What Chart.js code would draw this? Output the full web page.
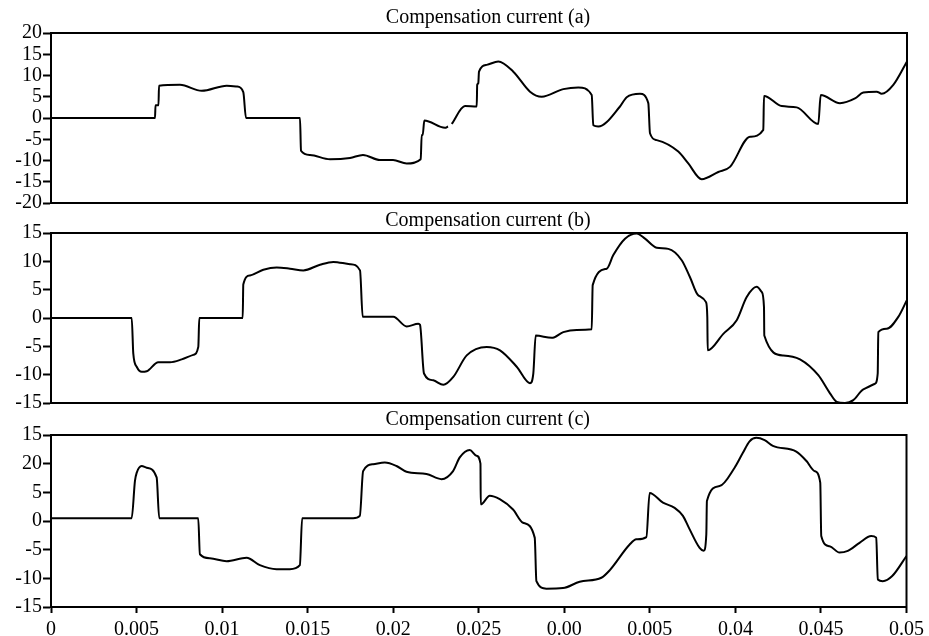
<!DOCTYPE html>
<html>
<head>
<meta charset="utf-8">
<script src="https://cdn.jsdelivr.net/npm/chart.js@4.4.1/dist/chart.umd.min.js"></script>
<style>
  html, body { margin: 0; padding: 0; background: #fff; }
  #wrap { position: relative; width: 929px; height: 636px; overflow: hidden; }
  #wrap canvas { position: absolute; left: 0; top: 0; }
</style>
</head>
<body>
<div id="wrap">
  <canvas id="chartA" width="929" height="636"></canvas>
  <canvas id="chartB" width="929" height="636"></canvas>
  <canvas id="chartC" width="929" height="636"></canvas>
</div>
<script>
// time in ms, current in A
const timeA = [0, 6.075, 6.104, 6.279, 6.308, 7.535, 8.803, 10.263, 10.847, 11.232, 11.390,
  14.544, 14.603, 15.129, 16.297, 17.465, 18.224, 19.217, 19.977, 20.777, 21.595, 21.653,
  21.712, 21.805, 23.014, 23.19, 23.3, 23.405, 24.182, 24.866, 24.895, 24.959, 25.0, 25.450, 26.127,
  27.004, 27.979, 28.662, 29.924, 30.800, 31.583, 31.676, 31.968, 33.236, 33.627, 34.404,
  34.889, 34.988, 35.380, 36.641, 37.225, 38.008, 38.978, 39.661, 40.829, 41.606, 41.647,
  42.681, 43.558, 44.819, 44.959, 46.086, 46.963, 47.448, 48.230, 48.522, 49.200, 50.0];
const currentA = [0, 0, 3.0, 3.0, 7.6, 7.8, 6.4, 7.6, 7.4, 6.1, 0,
  0, -7.7, -8.7, -9.7, -9.4, -8.7, -9.9, -9.9, -10.7, -9.7, -4.0,
  -4.0, -0.6, -2.3, -2.0, null, -1.4, 2.8, 2.7, 7.8, 8.2, 10.9, 12.5, 13.3,
  10.9, 6.2, 5.0, 6.8, 7.2, 5.4, -1.7, -2.0, 2.7, 4.9, 5.7,
  3.5, -3.6, -5.2, -7.9, -10.7, -14.4, -12.7, -11.5, -4.4, -2.8, 5.2,
  2.8, 2.5, -1.4, 5.4, 3.5, 4.6, 6.0, 6.2, 5.7, 7.8, 13.3];

const timeB = [0, 4.714, 4.807, 5.006, 5.298, 5.590, 6.268, 6.951, 7.634, 8.312, 8.604, 8.662,
  11.197, 11.232, 11.624, 12.401, 13.183, 13.960, 14.737, 15.713, 16.490, 17.465, 18.049,
  18.207, 19.994, 20.777, 21.454, 21.554, 21.787, 22.331, 22.915, 23.499, 24.282, 25.450,
  26.227, 27.202, 27.979, 28.172, 28.312, 29.247, 29.924, 30.707, 31.583, 31.641, 32.459,
  32.845, 33.528, 34.211, 34.696, 35.380, 36.057, 36.840, 37.325, 37.810, 38.259, 38.335,
  38.359, 39.270, 40.053, 40.637, 41.221, 41.513, 41.647, 41.665, 42.774, 43.750, 44.819,
  45.502, 45.894, 46.379, 46.863, 47.448, 48.131, 48.289, 48.324, 48.814, 49.492, 50.0];
const currentB = [0, 0, -6.3, -8.6, -9.5, -9.4, -7.8, -7.8, -7.3, -6.5, -5.1, 0,
  0, 5.9, 7.5, 8.5, 8.9, 8.7, 8.4, 9.4, 9.9, 9.5, 8.4,
  0.2, 0.2, -1.5, -1.0, -1.2, -9.8, -11.0, -11.8, -10.4, -6.6, -5.1,
  -5.7, -8.6, -11.5, -9.8, -3.1, -3.5, -2.5, -2.1, -2.0, 5.8, 8.7,
  11.1, 14.0, 14.9, 14.0, 12.4, 12.2, 10.2, 7.2, 4.0, 2.8, 0.2,
  -5.7, -2.8, -0.4, 3.7, 5.5, 4.6, 1.9, -3.1, -6.6, -7.3, -10.1,
  -13.3, -14.8, -15.0, -14.5, -12.6, -11.6, -9.8, -2.5, -1.9, 0.2, 3.2];

const timeC = [0, 4.714, 4.907, 5.006, 5.298, 5.590, 6.174, 6.326, 8.604, 8.703, 9.287,
  10.263, 11.431, 12.208, 13.183, 13.960, 14.544, 14.679, 17.658, 18.049, 18.242, 18.826,
  19.509, 20.193, 20.777, 21.945, 22.821, 23.499, 23.890, 24.474, 24.866, 25.100, 25.117,
  25.643, 26.227, 27.004, 27.588, 28.271, 28.370, 28.954, 29.924, 30.900, 32.167, 32.652,
  33.820, 34.211, 34.796, 34.988, 35.765, 36.449, 36.934, 37.284, 37.909, 38.143, 38.300,
  38.335, 39.077, 39.953, 40.438, 40.829, 41.221, 41.706, 42.191, 43.558, 44.142, 44.626,
  44.959, 45.018, 45.502, 46.086, 46.572, 47.255, 47.938, 48.230, 48.324, 48.616, 49.165, 50.0];
const currentC = [0.5, 0.5, 7.0, 8.4, 9.6, 9.3, 7.6, 0.5, 0.5, -5.8, -6.5,
  -7.0, -6.4, -7.7, -8.4, -8.4, -7.7, 0.5, 0.5, 0.9, 8.7, 9.9,
  10.2, 9.6, 8.6, 8.2, 7.3, 8.7, 11.1, 12.4, 11.4, 10.0, 2.9,
  4.4, 3.8, 2.0, -0.3, -2.9, -10.5, -11.8, -11.7, -10.6, -9.9, -8.6,
  -4.1, -3.2, -2.8, 4.9, 3.2, 2.3, 0.9, -1.2, -4.7, -5.2, -2.3,
  3.5, 6.1, 9.3, 11.9, 13.9, 14.5, 14.1, 13.1, 12.1, 10.5, 8.7,
  6.7, -2.6, -4.4, -5.5, -5.2, -3.8, -2.6, -2.9, -10.2, -10.5, -9.6, -6.1];

const titles = ['Compensation current (a)', 'Compensation current (b)', 'Compensation current (c)'];
const xTickLabels = ['0', '0.005', '0.01', '0.015', '0.02', '0.025', '0.00', '0.005', '0.04', '0.045', '0.05'];
const yTickLabelsC = ['-15', '-10', '-5', '0', '5', '20', '15'];

const serif = 'Liberation Serif';

const panelDecor = {
  id: 'panelDecor',
  afterDraw(chart, args, opts) {
    const ctx = chart.ctx, a = chart.chartArea;
    ctx.save();
    ctx.strokeStyle = '#000';
    ctx.lineWidth = 2;
    ctx.strokeRect(a.left, a.top, a.right - a.left, a.bottom - a.top);
    ctx.font = '20px "' + serif + '"';
    ctx.fillStyle = '#000';
    ctx.textAlign = 'center';
    ctx.textBaseline = 'alphabetic';
    ctx.fillText(opts.text, (a.left + a.right) / 2 + 9, a.top - opts.gap);
    ctx.restore();
  }
};

function toPoints(times, values) {
  return times.map((t, i) => ({ x: t / 1000, y: values[i] }));
}

function makePanel(id, times, values, cfg) {
  const yAxis = {
    min: cfg.yMin, max: cfg.yMax,
    ticks: {
      stepSize: 5, autoSkip: false, color: '#000', padding: 1,
      font: { family: serif, size: 20 },
      callback: cfg.yLabels ? (v, i) => cfg.yLabels[i] : (v) => String(v)
    },
    grid: { drawOnChartArea: false, drawTicks: true, tickLength: 8, tickWidth: 2, tickColor: '#000' },
    border: { display: true, color: '#000', width: 2 },
    afterFit(s) { s.width = 51; }
  };
  const xAxis = {
    type: 'linear', min: 0, max: 0.05,
    display: cfg.showX,
    ticks: {
      stepSize: 0.005, autoSkip: false, maxRotation: 0, color: '#000', padding: 5,
      font: { family: serif, size: 20 },
      callback: (v, i) => xTickLabels[i]
    },
    grid: { drawOnChartArea: false, drawTicks: true, tickLength: 6, tickWidth: 2, tickColor: '#000' },
    border: { display: true, color: '#000', width: 2 },
    afterFit(s) { s.height = cfg.showX ? 29 : 0; }
  };
  return new Chart(document.getElementById(id), {
    type: 'line',
    data: {
      datasets: [{
        data: toPoints(times, values),
        borderColor: '#000',
        borderWidth: 2,
        pointRadius: 0,
        fill: false,
        spanGaps: false,
        cubicInterpolationMode: 'monotone'
      }]
    },
    options: {
      responsive: false,
      animation: false,
      layout: { padding: { left: 0, right: 22, top: cfg.top, bottom: cfg.bottom } },
      scales: { x: xAxis, y: yAxis },
      plugins: {
        legend: { display: false },
        tooltip: { enabled: false },
        panelDecor: { text: cfg.title, gap: cfg.gap }
      }
    },
    plugins: [panelDecor]
  });
}

makePanel('chartA', timeA, currentA, { yMin: -20, yMax: 20, top: 33, bottom: 433, showX: false, title: titles[0], gap: 10 });
makePanel('chartB', timeB, currentB, { yMin: -15, yMax: 15, top: 233, bottom: 233, showX: false, title: titles[1], gap: 7 });
makePanel('chartC', timeC, currentC, { yMin: -15, yMax: 15, top: 435, bottom: 0, showX: true, title: titles[2], gap: 10, yLabels: yTickLabelsC });
</script>
</body>
</html>
